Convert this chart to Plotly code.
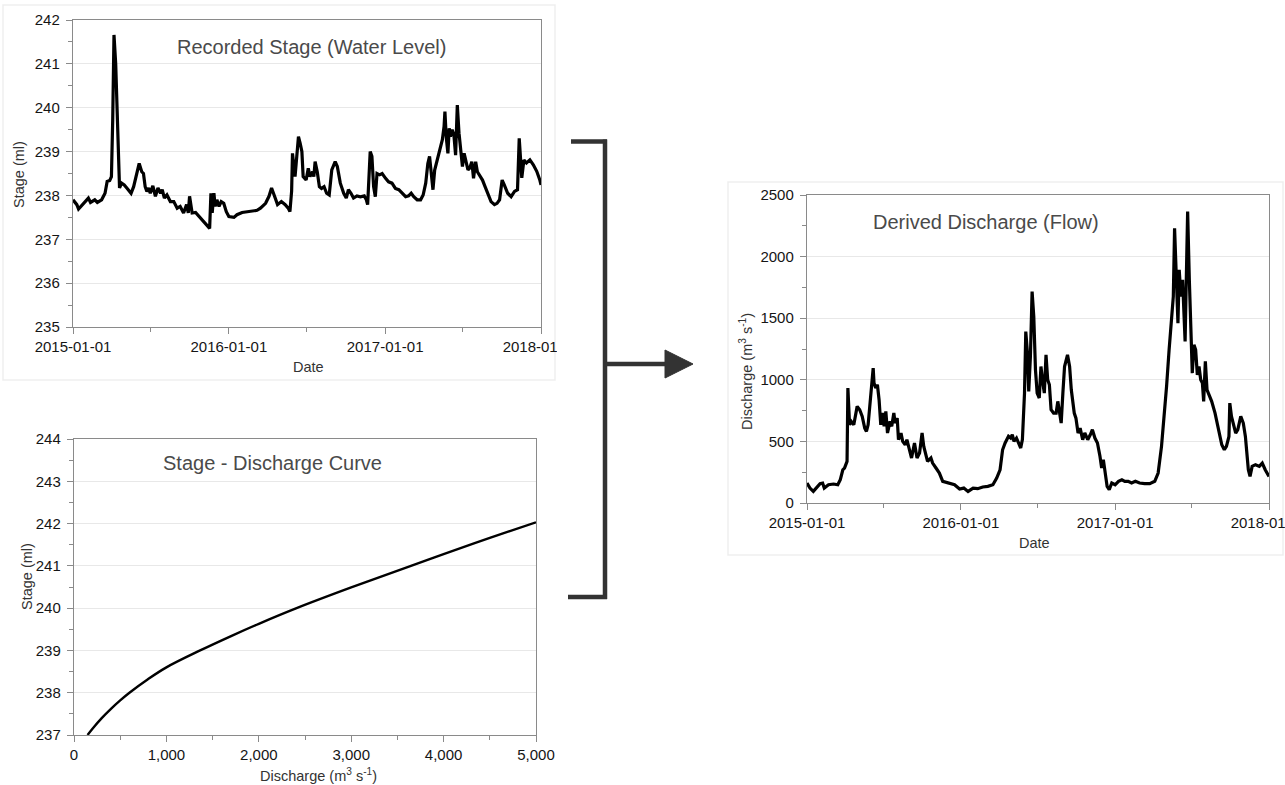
import plotly.graph_objects as go
import pandas as pd

W, H = 1285, 785

# ---------------- data ----------------
record_start = "2015-01-01"

stage_days = [0, 9, 13, 24, 36, 41, 51, 57, 67, 75, 80, 86, 90, 93, 96, 100, 104, 109, 114, 120,
              126, 136, 142, 150, 155, 161, 165, 169, 173, 177, 181, 187, 193, 199, 205, 209, 214, 220,
              228, 236, 244, 251, 259, 266, 270, 273, 279, 287, 295, 302, 310, 317, 320, 323, 326, 330,
              333, 337, 342, 347, 353, 359, 365, 377, 384, 396, 408, 420, 431, 439, 451, 459, 465, 471,
              479, 488, 497, 504, 508, 512, 514, 520, 524, 528, 532, 536, 539, 546, 551, 555, 561, 564,
              567, 572, 577, 582, 588, 594, 600, 606, 614, 619, 626, 634, 640, 645, 651, 657, 665, 673,
              682, 687, 690, 692, 696, 700, 704, 708, 712, 718, 724, 732, 739, 747, 755, 763, 771, 779,
              786, 792, 798, 806, 814, 820, 826, 831, 835, 839, 843, 847, 853, 859, 865, 869, 871, 874,
              878, 881, 884, 888, 892, 896, 900, 904, 908, 912, 916, 921, 925, 929, 934, 938, 943, 947,
              953, 959, 965, 971, 979, 987, 993, 999, 1005, 1010, 1018, 1026, 1034, 1041, 1045, 1051,
              1056, 1062, 1070, 1078, 1086, 1093, 1096]
stage_ml = [237.90, 237.79, 237.69, 237.82, 237.94, 237.84, 237.90, 237.84, 237.90, 238.05, 238.32,
            238.34, 238.43, 239.72, 241.66, 241.00, 239.70, 238.17, 238.28, 238.24, 238.17, 238.05,
            238.20, 238.58, 238.73, 238.54, 238.50, 238.20, 238.09, 238.17, 238.05, 238.22, 237.98,
            238.17, 238.05, 238.13, 237.94, 238.01, 237.86, 237.86, 237.71, 237.75, 237.60, 237.79,
            237.60, 237.98, 237.60, 237.61, 237.52, 237.44, 237.37, 237.29, 237.25, 238.05, 237.60,
            238.05, 237.75, 237.90, 237.75, 237.86, 237.82, 237.63, 237.52, 237.50, 237.56, 237.61,
            237.63, 237.66, 237.66, 237.71, 237.82, 237.98, 238.17, 238.01, 237.79, 237.86, 237.79,
            237.71, 237.63, 238.10, 238.96, 238.43, 238.96, 239.34, 239.19, 239.00, 238.43, 238.35,
            238.62, 238.43, 238.54, 238.43, 238.77, 238.54, 238.20, 238.16, 238.20, 238.05, 238.01,
            238.58, 238.77, 238.66, 238.28, 238.05, 237.94, 238.13, 238.05, 237.94, 237.99, 237.97,
            237.99, 237.90, 237.79, 238.35, 239.00, 238.89, 238.20, 237.97, 238.50, 238.47, 238.50,
            238.39, 238.31, 238.28, 238.16, 238.13, 238.05, 237.97, 237.99, 238.05, 237.97, 237.90,
            237.90, 238.01, 238.28, 238.73, 238.89, 238.43, 238.13, 238.58, 238.81, 239.04, 239.27,
            239.57, 239.91, 239.34, 238.96, 239.53, 239.34, 239.50, 239.38, 238.92, 240.06, 239.42,
            239.08, 238.66, 238.96, 238.77, 238.58, 238.62, 238.77, 238.39, 238.77, 238.54, 238.43,
            238.35, 238.20, 238.05, 237.86, 237.79, 237.82, 237.90, 238.35, 238.24, 238.05, 237.97,
            238.09, 238.13, 239.30, 238.40, 238.81, 238.74, 238.81, 238.70, 238.55, 238.36, 238.24]

flow_days = [0, 7, 15, 23, 31, 37, 41, 51, 63, 73, 79, 85, 89, 95, 97, 101, 105, 111, 115, 119, 125,
             131, 137, 141, 145, 151, 157, 159, 163, 167, 171, 175, 179, 183, 187, 191, 197, 201, 206,
             209, 214, 217, 223, 227, 233, 237, 243, 248, 255, 261, 267, 273, 277, 282, 286, 294, 298,
             306, 314, 322, 334, 350, 362, 372, 382, 394, 405, 417, 429, 441, 450, 458, 464, 470, 478,
             483, 487, 491, 497, 501, 507, 511, 516, 519, 523, 526, 530, 534, 538, 542, 546, 551, 555,
             559, 563, 567, 571, 575, 579, 585, 591, 595, 599, 603, 607, 611, 618, 623, 627, 634, 638,
             643, 648, 654, 659, 666, 672, 677, 683, 689, 695, 699, 703, 707, 712, 717, 723, 731, 739,
             747, 754, 762, 770, 779, 789, 801, 813, 825, 833, 841, 848, 853, 859, 865, 869, 872, 876,
             880, 883, 887, 891, 895, 897, 899, 903, 907, 911, 914, 918, 922, 926, 930, 934, 938, 941,
             945, 949, 954, 960, 968, 976, 984, 990, 995, 1001, 1003, 1007, 1011, 1017, 1022, 1029,
             1035, 1040, 1047, 1051, 1056, 1064, 1073, 1080, 1087, 1096]
discharge_cms = [162, 121, 94, 121, 157, 162, 121, 148, 154, 148, 189, 270, 284, 338, 933, 635, 662,
                 635, 703, 784, 757, 703, 608, 581, 635, 892, 1095, 973, 933, 960, 838, 635, 730, 622,
                 743, 568, 662, 622, 730, 649, 689, 514, 568, 500, 473, 514, 419, 365, 487, 365, 406,
                 568, 460, 392, 338, 365, 324, 284, 243, 176, 162, 148, 113, 121, 94, 121, 116, 130,
                 135, 148, 202, 270, 432, 487, 541, 527, 554, 500, 527, 487, 446, 514, 892, 1392, 1216,
                 906, 1189, 1716, 1514, 1081, 892, 852, 1108, 987, 892, 1203, 1000, 960, 757, 730, 730,
                 825, 716, 649, 892, 1108, 1203, 1108, 919, 730, 689, 568, 608, 514, 568, 514, 554,
                 595, 527, 487, 379, 284, 352, 230, 135, 108, 162, 148, 176, 189, 176, 176, 162, 176,
                 162, 157, 157, 176, 243, 460, 730, 946, 1243, 1541, 1676, 2230, 1757, 1459, 1892, 1676,
                 1811, 1487, 1311, 1676, 2365, 1811, 1270, 1054, 1284, 1243, 1040, 1108, 1000, 973, 825,
                 1149, 919, 879, 825, 730, 595, 473, 432, 460, 540, 811, 703, 649, 568, 595, 703, 649,
                 540, 270, 216, 297, 311, 297, 324, 270, 216]

curve_discharge = [147, 200, 300, 400, 500, 600, 800, 1000, 1365, 1700, 2000, 2409, 3000, 3647,
                   4000, 4500, 5000]
curve_stage = [237.00, 237.15, 237.40, 237.62, 237.82, 238.00, 238.32, 238.60, 239.00, 239.34,
               239.63, 240.00, 240.49, 241.00, 241.28, 241.66, 242.03]

stage_ticks = [235, 236, 237, 238, 239, 240, 241, 242]
curve_stage_ticks = [237, 238, 239, 240, 241, 242, 243, 244]
discharge_ticks = [0, 500, 1000, 1500, 2000, 2500]
curve_discharge_ticks = [0, 1000, 2000, 3000, 4000, 5000]

start = pd.Timestamp(record_start)
stage_dates = start + pd.to_timedelta(stage_days, unit="D")
flow_dates = start + pd.to_timedelta(flow_days, unit="D")


# ---------------- layout helpers (pixels -> paper) ----------------
def fx(px):
    return px / W


def fy(py):
    return 1 - py / H


FONT = "Liberation Sans, Arial, Helvetica, sans-serif"
AX = "#8a8a8a"
GRID = "#e8e8e8"

fig = go.Figure()

fig.add_trace(go.Scatter(x=stage_dates, y=stage_ml, mode="lines", xaxis="x", yaxis="y",
                         line=dict(color="black", width=3.2), showlegend=False))
fig.add_trace(go.Scatter(x=curve_discharge, y=curve_stage, mode="lines", xaxis="x2", yaxis="y2",
                         line=dict(color="black", width=2.4, shape="spline", smoothing=1.0),
                         showlegend=False))
fig.add_trace(go.Scatter(x=flow_dates, y=discharge_cms, mode="lines", xaxis="x3", yaxis="y3",
                         line=dict(color="black", width=3.2), showlegend=False))


def axis(**kw):
    base = dict(showline=True, linecolor=AX, linewidth=1.4, mirror=True, ticks="outside",
                ticklen=6, tickwidth=1.3, tickcolor=AX, zeroline=False, fixedrange=True,
                automargin=False, ticklabeloverflow="allow",
                tickfont=dict(family=FONT, size=15, color="#151515"))
    base.update(kw)
    return base


minor_style = dict(ticks="outside", ticklen=4, tickwidth=1.2, tickcolor=AX, showgrid=False)

fig.update_layout(
    width=W, height=H, margin=dict(l=0, r=0, t=0, b=0, autoexpand=False),
    paper_bgcolor="white", plot_bgcolor="white",
    font=dict(family=FONT),
    # top-left: recorded stage
    xaxis=axis(domain=[fx(73), fx(541)], anchor="y", type="date",
               range=["2015-01-01", "2018-01-01"], tick0="2015-01-01", dtick="M12",
               tickformat="%Y-%m-%d", showgrid=False,
               minor=dict(dtick="M6", tick0="2015-01-01", **minor_style)),
    yaxis=axis(domain=[fy(327), fy(20)], anchor="x", range=[235, 242], tickvals=stage_ticks,
               showgrid=True, gridcolor=GRID, gridwidth=1, ticklabelstandoff=3,
               minor=dict(dtick=0.5, tick0=235, **minor_style)),
    # bottom-left: stage - discharge curve
    xaxis2=axis(domain=[fx(74), fx(536)], anchor="y2", range=[0, 5000],
                tickvals=curve_discharge_ticks, tickformat=",", showgrid=False,
                minor=dict(dtick=500, tick0=0, **minor_style)),
    yaxis2=axis(domain=[fy(735), fy(439)], anchor="x2", range=[237, 244],
                tickvals=curve_stage_ticks, showgrid=True, gridcolor=GRID, gridwidth=1,
                ticklabelstandoff=3, minor=dict(dtick=0.5, tick0=237, **minor_style)),
    # right: derived discharge
    xaxis3=axis(domain=[fx(807), fx(1269)], anchor="y3", type="date",
                range=["2015-01-01", "2018-01-01"], tick0="2015-01-01", dtick="M12",
                tickformat="%Y-%m-%d", showgrid=False,
                minor=dict(dtick="M6", tick0="2015-01-01", **minor_style)),
    yaxis3=axis(domain=[fy(503), fy(195)], anchor="x3", range=[0, 2500], tickvals=discharge_ticks,
                showgrid=True, gridcolor=GRID, gridwidth=1, ticklabelstandoff=3,
                minor=dict(dtick=250, tick0=0, **minor_style)),
)

# ---------------- text ----------------
def note(text, x, y, size=14.5, color="#333333", angle=0):
    fig.add_annotation(text=text, x=fx(x), y=fy(y), xref="paper", yref="paper",
                       showarrow=False, xanchor="center", yanchor="middle", textangle=angle,
                       font=dict(family=FONT, size=size, color=color))


note("Recorded Stage (Water Level)", 311, 47, size=20, color="#4a4a4a")
note("Stage - Discharge Curve", 272, 463, size=20, color="#4a4a4a")
note("Derived Discharge (Flow)", 986, 222, size=20, color="#4a4a4a")

note("Date", 308, 367)
note("Stage (ml)", 19, 175, angle=-90)
note("Stage (ml)", 27, 577, angle=-90)
note("Discharge (m<sup>3</sup> s<sup>-1</sup>)", 318, 775)
note("Date", 1034, 543)
note("Discharge (m<sup>3</sup> s<sup>-1</sup>)", 746, 372, angle=-90)

# ---------------- panels, bracket and arrow ----------------
PANEL = "#efefef"
fig.add_shape(type="rect", xref="paper", yref="paper", x0=fx(3), x1=fx(555), y0=fy(380), y1=fy(5),
              line=dict(color=PANEL, width=1.5), layer="below")
fig.add_shape(type="rect", xref="paper", yref="paper", x0=fx(728), x1=fx(1283), y0=fy(555),
              y1=fy(182), line=dict(color=PANEL, width=1.5), layer="below")
# the top panel cuts off its last date label
fig.add_shape(type="rect", xref="paper", yref="paper", x0=fx(557), x1=fx(598), y0=fy(358),
              y1=fy(329), line=dict(width=0), fillcolor="white", layer="above")

DARK = "#333333"
for x0, y0, x1, y1 in [(605, 139.5, 605, 599), (571, 141.5, 607, 141.5), (568, 597, 607, 597),
                       (605, 364, 668, 364)]:
    fig.add_shape(type="line", xref="paper", yref="paper", x0=fx(x0), y0=fy(y0), x1=fx(x1),
                  y1=fy(y1), line=dict(color=DARK, width=4.5))
fig.add_shape(type="path", xref="paper", yref="paper",
              path=f"M {fx(665)} {fy(350)} L {fx(693)} {fy(364)} L {fx(665)} {fy(378)} Z",
              fillcolor=DARK, line=dict(color=DARK, width=1))

fig.write_html("out.html", config={"displayModeBar": False},
               post_script="document.body.style.margin='0';document.body.style.overflow='hidden';")
